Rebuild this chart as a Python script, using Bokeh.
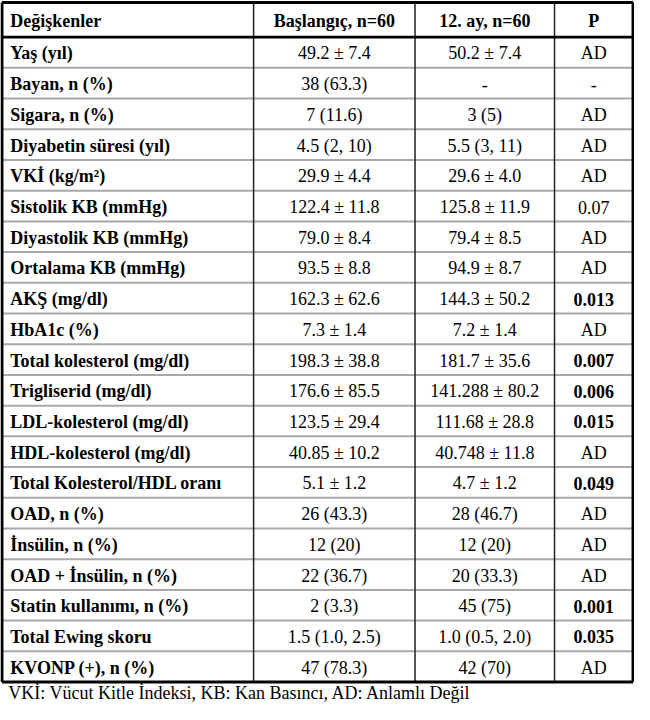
from bokeh.plotting import figure
from bokeh.models import Range1d, ColumnDataSource
from bokeh.core.properties import value
from bokeh.embed import file_html
from bokeh.resources import INLINE

# ---- table content ----
headers = ["Değişkenler", "Başlangıç, n=60", "12. ay, n=60", "P"]
variables = ["Yaş (yıl)", "Bayan, n (%)", "Sigara, n (%)", "Diyabetin süresi (yıl)",
             "VKİ (kg/m²)", "Sistolik KB (mmHg)", "Diyastolik KB (mmHg)",
             "Ortalama KB (mmHg)", "AKŞ (mg/dl)", "HbA1c (%)",
             "Total kolesterol (mg/dl)", "Trigliserid (mg/dl)",
             "LDL-kolesterol (mg/dl)", "HDL-kolesterol (mg/dl)",
             "Total Kolesterol/HDL oranı", "OAD, n (%)", "İnsülin, n (%)",
             "OAD + İnsülin, n (%)", "Statin kullanımı, n (%)",
             "Total Ewing skoru", "KVONP (+), n (%)"]
baseline = ["49.2 ± 7.4", "38 (63.3)", "7 (11.6)", "4.5 (2, 10)", "29.9 ± 4.4",
            "122.4 ± 11.8", "79.0 ± 8.4", "93.5 ± 8.8", "162.3 ± 62.6",
            "7.3 ± 1.4", "198.3 ± 38.8", "176.6 ± 85.5", "123.5 ± 29.4",
            "40.85 ± 10.2", "5.1 ± 1.2", "26 (43.3)", "12 (20)", "22 (36.7)",
            "2 (3.3)", "1.5 (1.0, 2.5)", "47 (78.3)"]
month12 = ["50.2 ± 7.4", "-", "3 (5)", "5.5 (3, 11)", "29.6 ± 4.0",
           "125.8 ± 11.9", "79.4 ± 8.5", "94.9 ± 8.7", "144.3 ± 50.2",
           "7.2 ± 1.4", "181.7 ± 35.6", "141.288 ± 80.2", "111.68 ± 28.8",
           "40.748 ± 11.8", "4.7 ± 1.2", "28 (46.7)", "12 (20)", "20 (33.3)",
           "45 (75)", "1.0 (0.5, 2.0)", "42 (70)"]
pvals = ["AD", "-", "AD", "AD", "AD", "0.07", "AD", "AD", "0.013", "AD",
         "0.007", "0.006", "0.015", "AD", "0.049", "AD", "AD", "AD",
         "0.001", "0.035", "AD"]
significant = ["0.013", "0.007", "0.006", "0.015", "0.049", "0.001", "0.035"]
footnote = "VKİ: Vücut Kitle İndeksi, KB: Kan Basıncı, AD: Anlamlı Değil"

# ---- layout (in reference pixel units) ----
col_edges = [1.5, 259.5, 425.0, 568.0, 648.5]
table_top = 2.0
header_bottom = 37.5
table_bottom = 697.0
n = len(variables)
row_h = (table_bottom - header_bottom) / n
FONT = value("Liberation Serif")
FS = "18px"

W, H = 634, 704
p = figure(width=W, height=H, output_backend="svg", toolbar_location=None,
           x_range=Range1d(0, 650), y_range=Range1d(720, 0), min_border=0,
           background_fill_color="white", border_fill_color="white")
p.axis.visible = False
p.grid.visible = False
p.outline_line_color = None

# row separators (gray)
row_lines = [header_bottom + row_h * i for i in range(1, n)]
p.segment(x0=[col_edges[0]] * len(row_lines), x1=[col_edges[-1]] * len(row_lines),
          y0=row_lines, y1=row_lines, line_color="#a8a8a8", line_width=2)
# inner vertical lines
inner = col_edges[1:-1]
p.segment(x0=inner, x1=inner, y0=[table_top] * 3, y1=[table_bottom] * 3,
          line_color="#222222", line_width=1.5)
# header rule
p.segment(x0=[col_edges[0]], x1=[col_edges[-1]], y0=[header_bottom], y1=[header_bottom],
          line_color="black", line_width=2.8)
# outer border
p.segment(x0=[col_edges[0], col_edges[0], col_edges[0], col_edges[-1]],
          x1=[col_edges[-1], col_edges[-1], col_edges[0], col_edges[-1]],
          y0=[table_top, table_bottom, table_top, table_top],
          y1=[table_top, table_bottom, table_bottom, table_bottom],
          line_color="black", line_width=3)

# header texts
hy = (table_top + header_bottom) / 2 + 1
centers = [(col_edges[i] + col_edges[i + 1]) / 2 for i in range(4)]
p.text(x=[10], y=[hy], text=[headers[0]], text_font=FONT, text_font_size=FS,
       text_font_style="bold", text_baseline="middle", text_align="left", text_color="black")
p.text(x=centers[1:], y=[hy] * 3, text=headers[1:], text_font=FONT, text_font_size=FS,
       text_font_style="bold", text_baseline="middle", text_align="center", text_color="black")

ys = [header_bottom + row_h * (i + 0.5) + 1 for i in range(n)]
p.text(x=[10] * n, y=ys, text=variables, text_font=FONT, text_font_size=FS,
       text_font_style="bold", text_baseline="middle", text_align="left", text_color="black")
p.text(x=[centers[1]] * n, y=ys, text=baseline, text_font=FONT, text_font_size=FS,
       text_baseline="middle", text_align="center", text_color="black")
p.text(x=[centers[2]] * n, y=ys, text=month12, text_font=FONT, text_font_size=FS,
       text_baseline="middle", text_align="center", text_color="black")

bold_src = ColumnDataSource(dict(x=[centers[3]] * n, y=ys,
                                 t=[v if v in significant else "" for v in pvals]))
norm_src = ColumnDataSource(dict(x=[centers[3]] * n, y=ys,
                                 t=[v if v not in significant else "" for v in pvals]))
p.text(x="x", y="y", text="t", source=bold_src, text_font=FONT, text_font_size=FS,
       text_font_style="bold", text_baseline="middle", text_align="center", text_color="black")
p.text(x="x", y="y", text="t", source=norm_src, text_font=FONT, text_font_size=FS,
       text_baseline="middle", text_align="center", text_color="black")

# footnote
p.text(x=[8], y=[708], text=[footnote], text_font=FONT, text_font_size=FS,
       text_baseline="middle", text_align="left", text_color="black")

open("out.html", "w").write(file_html(p, INLINE))
